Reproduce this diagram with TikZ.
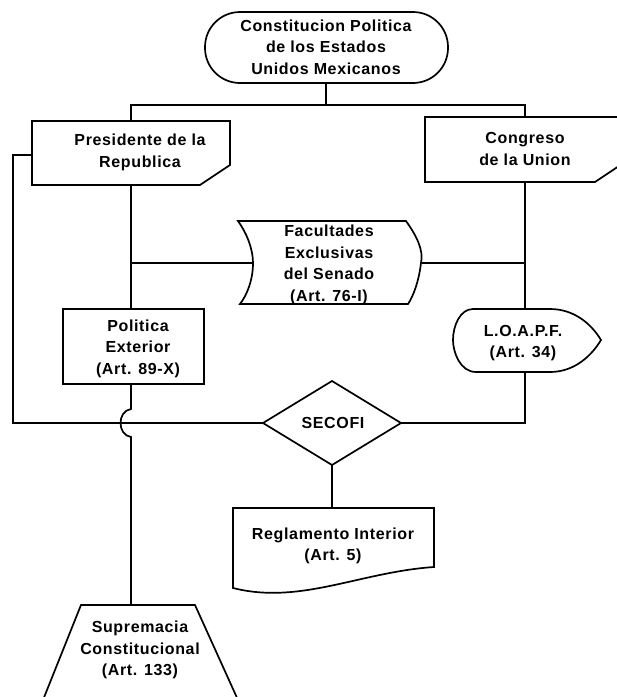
\documentclass[tikz,border=0pt]{standalone}
\usepackage{fontspec}
\setmainfont{Liberation Sans}[LetterSpace=4]
\begin{document}
\begin{tikzpicture}[x=1pt,y=-1pt,
  txt/.style={align=center, font=\fontsize{16}{21.5}\selectfont\bfseries, inner sep=0pt},
  shp/.style={draw=black, line width=1.7pt, line join=miter},
  ln/.style={draw=black, line width=1.7pt}]
\useasboundingbox (0,0) rectangle (617,697);
\fill[white] (0,0) rectangle (617,697);
\clip (0,0) rectangle (617,697);

% ---- shapes ----
\draw[shp, rounded corners=35] (205,12) rectangle (448,83);
\draw[shp] (32,121) -- (230,121) -- (230,165) -- (200,185) -- (32,185) -- cycle;
\draw[shp] (425,117) -- (625,117) -- (625,162) -- (595,182) -- (425,182) -- cycle;
\draw[shp] (238,221) -- (406,221) .. controls (416,235) and (424,250) .. (421,263)
  .. controls (419,280) and (414,295) .. (408,304) -- (240,304)
  .. controls (247,295) and (253,280) .. (253,263)
  .. controls (253,248) and (246,232) .. (238,221) -- cycle;
\draw[shp] (473,309) -- (550,309) .. controls (575,309) and (592,325) .. (601,340)
  .. controls (592,355) and (575,372) .. (550,372) -- (476,372)
  .. controls (460,372) and (453,352) .. (453,340)
  .. controls (453,326) and (460,309) .. (473,309) -- cycle;
\draw[shp] (63,309) rectangle (204,384);
\draw[shp] (263,423) -- (332,381) -- (401,423) -- (332,465) -- cycle;
\draw[shp] (233,508) -- (434,508) -- (434,567)
  .. controls (360,572) and (300,605) .. (233,588) -- cycle;
\draw[shp] (81,605) -- (195,605) -- (238,700) -- (43,700) -- cycle;

% ---- texts ----
\node[txt] (cpeum) at (326,47) {Constitucion Politica\\de los Estados\\Unidos Mexicanos};
\node[txt] (pres) at (140,152.5) {Presidente de la\\Republica};
\node[txt] (cong) at (525,149) {Congreso\\de la Union};
\node[txt] (fac) at (329,265) {Facultades\\Exclusivas\\del Senado\\(Art. 76-I)};
\node[txt] (loapf) at (523,343) {L.O.A.P.F.\\(Art. 34)};
\node[txt] (pe) at (138,348.5) {Politica\\Exterior\\(Art. 89-X)};
\node[txt] (secofi) at (333,423) {SECOFI};
\node[txt] (reg) at (333,546) {Reglamento Interior\\(Art. 5)};
\node[txt] (sup) at (140,650) {Supremacia\\Constitucional\\(Art. 133)};

% ---- connection points ----
\coordinate (cpeum-s) at (326,83);
\coordinate (bus) at (326,105);
\coordinate (busL) at (131,105);
\coordinate (busR) at (525,105);
\coordinate (pres-n) at (131,121);
\coordinate (pres-s) at (131,185);
\coordinate (pres-w) at (32,155);
\coordinate (cong-n) at (525,117);
\coordinate (cong-s) at (525,182);
\coordinate (fac-w) at (253,263);
\coordinate (fac-e) at (421,263);
\coordinate (jL) at (131,263);
\coordinate (jR) at (525,263);
\coordinate (lo-n) at (525,309);
\coordinate (lo-s) at (525,372);
\coordinate (pe-n) at (131,309);
\coordinate (pe-s) at (131,384);
\coordinate (sec-w) at (263,423);
\coordinate (sec-e) at (401,423);
\coordinate (sec-s) at (332,465);
\coordinate (reg-n) at (332,508);
\coordinate (sup-n) at (131,605);
\coordinate (loopTL) at (13,155);
\coordinate (loopBL) at (13,423);
\coordinate (loopBR) at (525,423);
\coordinate (hopA) at (131,409);
\coordinate (hopB) at (131,437);

% ---- connectors ----
\draw[ln] (cpeum-s) -- (bus);
\draw[ln] (pres-n) -- (busL) -- (busR) -- (cong-n);
\draw[ln] (pres-s) -- (pe-n);
\draw[ln] (jL) -- (fac-w);
\draw[ln] (cong-s) -- (lo-n);
\draw[ln] (fac-e) -- (jR);
\draw[ln] (lo-s) -- (loopBR) -- (sec-e);
\draw[ln] (pres-w) -- (loopTL) -- (loopBL) -- (sec-w);
\draw[ln] (pe-s) -- (hopA) .. controls (117,411) and (117,435) .. (hopB) -- (sup-n);
\draw[ln] (sec-s) -- (reg-n);
\end{tikzpicture}
\end{document}
